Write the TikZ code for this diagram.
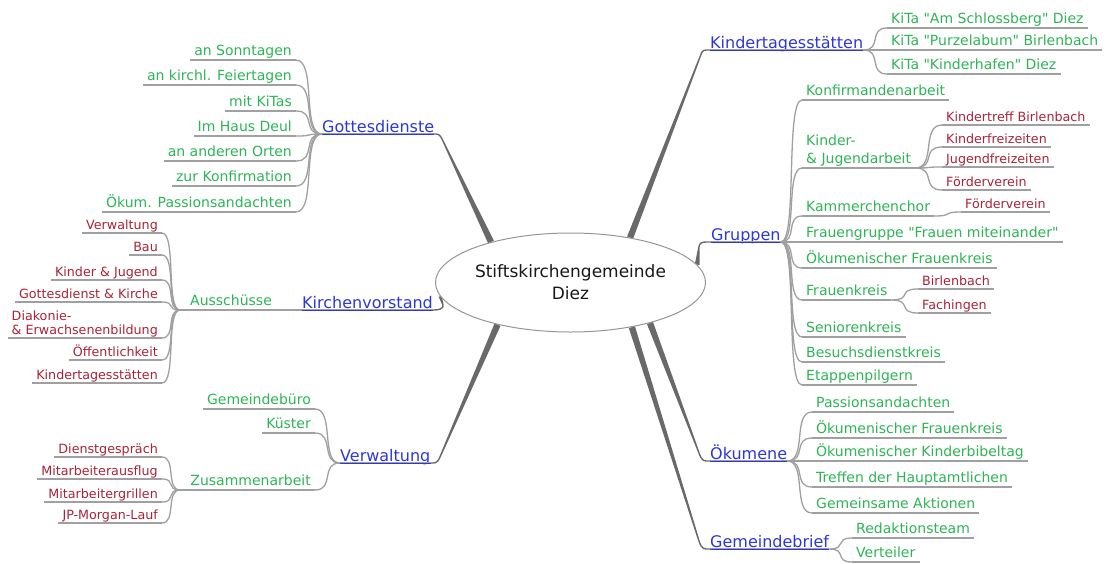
\documentclass[tikz,border=0pt]{standalone}
\usepackage{fontspec}
\setmainfont{DejaVu Sans}
\newfontfamily\mmfont{DejaVu Sans}
\usetikzlibrary{calc,shapes.geometric,backgrounds}
\definecolor{mmblue}{RGB}{45,55,215}
\definecolor{mmgreen}{RGB}{45,180,85}
\definecolor{mmred}{RGB}{170,35,55}
\definecolor{lineC}{RGB}{160,160,160}
\definecolor{taperC}{RGB}{105,105,105}
\definecolor{ellC}{RGB}{150,150,150}
\definecolor{centerT}{RGB}{25,25,25}
\tikzset{
  mmconn/.style={draw=lineC, line width=1.3pt},
  bline/.style={draw=mmblue, line width=1pt},
  gleaf/.style={text=mmgreen, font=\mmfont\fontsize{14}{18}\selectfont, inner xsep=4pt, inner ysep=0pt, text depth=4pt},
  rleaf/.style={text=mmred, font=\mmfont\fontsize{12.7}{14}\selectfont, inner xsep=4pt, inner ysep=0pt, text depth=3pt},
  btopic/.style={text=mmblue, font=\mmfont\fontsize{16}{18}\selectfont, inner sep=0pt, text depth=1.5pt},
}
\newcommand\mmlink[2]{\draw[mmconn] (#1) .. controls ($(#1)!0.8!(#2|-#1)$) and ($(#2)!0.8!(#1|-#2)$) .. (#2);}
\newcommand\mmunder[1]{\draw[mmconn] (#1.south west) -- (#1.south east);}
\newcommand\mmblueunder[1]{\draw[bline] (#1.south west) -- (#1.south east);}
% #1 start on ellipse (thick), #2 bend point, #3 end point, #4 half width at ellipse
\newcommand\mmtaper[4]{%
  \path (#1) coordinate (tpS) (#2) coordinate (tpQ) (#3) coordinate (tpE);
  \fill[taperC] ($(tpS)!#4!90:(tpQ)$) -- ($(tpQ)!0.7pt!-90:(tpS)$) -- ($(tpQ)!0.7pt!90:(tpS)$) -- ($(tpS)!#4!-90:(tpQ)$) -- cycle;
  \draw[taperC, line width=1.4pt] (tpQ) .. controls ($(tpQ)!-4pt!(tpS)$) and ($(tpE)!4pt!(tpQ|-tpE)$) .. (tpE);
}
\begin{document}
\begin{tikzpicture}[x=1pt,y=-1pt]
\useasboundingbox (0,0) rectangle (1112,563);
% centre
\node[ellipse, draw=ellC, fill=white, line width=1pt, minimum width=229pt, minimum height=99pt, inner sep=0pt, align=center, text=centerT, font=\mmfont\fontsize{17}{22}\selectfont] (c) at (570.5,282.5) {Stiftskirchengemeinde\\Diez};

% main topics
\node[btopic, anchor=south west] (gd) at (322,134) {Gottesdienste};
\node[btopic, anchor=south west] (kv) at (302,310) {Kirchenvorstand};
\node[btopic, anchor=south west] (vw) at (340,463) {Verwaltung};
\node[btopic, anchor=south west] (kt) at (710,50) {Kindertagesstätten};
\node[btopic, anchor=south west] (gr) at (711,242) {Gruppen};
\node[btopic, anchor=south west] (ok) at (710,461) {Ökumene};
\node[btopic, anchor=south west] (gb) at (710,549) {Gemeindebrief};

% Gottesdienste
\node[gleaf, anchor=south east] (gd1) at (296,60) {an Sonntagen};
\node[gleaf, anchor=south east] (gd2) at (296,85) {an kirchl. Feiertagen};
\node[gleaf, anchor=south east] (gd3) at (296,111) {mit KiTas};
\node[gleaf, anchor=south east] (gd4) at (296,136) {Im Haus Deul};
\node[gleaf, anchor=south east] (gd5) at (296,161) {an anderen Orten};
\node[gleaf, anchor=south east] (gd6) at (296,186) {zur Konfirmation};
\node[gleaf, anchor=south east] (gd7) at (296,212) {Ökum. Passionsandachten};

% Kirchenvorstand
\node[gleaf, anchor=south west] (aus) at (186,310) {Ausschüsse};
\coordinate (ausj) at (180,310);
\node[rleaf, anchor=south east] (a1) at (162,233) {Verwaltung};
\node[rleaf, anchor=south east] (a2) at (162,255) {Bau};
\node[rleaf, anchor=south east] (a3) at (162,280) {Kinder \& Jugend};
\node[rleaf, anchor=south east] (a4) at (162,302) {Gottesdienst \& Kirche};
\node[rleaf, anchor=south east, align=left] (a5) at (162,338) {Diakonie-\\\& Erwachsenenbildung};
\node[rleaf, anchor=south east] (a6) at (162,360) {Öffentlichkeit};
\node[rleaf, anchor=south east] (a7) at (162,383) {Kindertagesstätten};

% Verwaltung
\node[gleaf, anchor=south east] (v1) at (315,409) {Gemeindebüro};
\node[gleaf, anchor=south east] (v2) at (315,433) {Küster};
\node[gleaf, anchor=south east] (v3) at (315,490) {Zusammenarbeit};
\coordinate (zj) at (180,490);
\node[rleaf, anchor=south east] (z1) at (162,457) {Dienstgespräch};
\node[rleaf, anchor=south east] (z2) at (162,479) {Mitarbeiterausflug};
\node[rleaf, anchor=south east] (z3) at (162,502) {Mitarbeitergrillen};
\node[rleaf, anchor=south east] (z4) at (162,523) {JP-Morgan-Lauf};

% Kindertagesstaetten
\node[gleaf, anchor=south west] (k1) at (887,28) {KiTa "Am Schlossberg" Diez};
\node[gleaf, anchor=south west] (k2) at (887,50) {KiTa "Purzelabum" Birlenbach};
\node[gleaf, anchor=south west] (k3) at (887,74) {KiTa "Kinderhafen" Diez};

% Gruppen
\node[gleaf, anchor=south west] (g1) at (802,100) {Konfirmandenarbeit};
\node[gleaf, anchor=south west, align=left] (g2) at (802,168) {Kinder-\\\& Jugendarbeit};
\node[gleaf, anchor=south west] (g3) at (802,216) {Kammerchenchor};
\node[gleaf, anchor=south west] (g4) at (802,242) {Frauengruppe "Frauen miteinander"};
\node[gleaf, anchor=south west] (g5) at (802,268) {Ökumenischer Frauenkreis};
\node[gleaf, anchor=south west] (g6) at (802,300) {Frauenkreis};
\node[gleaf, anchor=south west] (g7) at (802,337) {Seniorenkreis};
\node[gleaf, anchor=south west] (g8) at (802,362) {Besuchsdienstkreis};
\node[gleaf, anchor=south west] (g9) at (802,385) {Etappenpilgern};
\node[rleaf, anchor=south west] (j1) at (942,125) {Kindertreff Birlenbach};
\node[rleaf, anchor=south west] (j2) at (942,147) {Kinderfreizeiten};
\node[rleaf, anchor=south west] (j3) at (942,167) {Jugendfreizeiten};
\node[rleaf, anchor=south west] (j4) at (942,190) {Förderverein};
\node[rleaf, anchor=south west] (fv) at (961,212) {Förderverein};
\node[rleaf, anchor=south west] (f1) at (918,289) {Birlenbach};
\node[rleaf, anchor=south west] (f2) at (918,313) {Fachingen};

% Oekumene
\node[gleaf, anchor=south west] (o1) at (812,412) {Passionsandachten};
\node[gleaf, anchor=south west] (o2) at (812,438) {Ökumenischer Frauenkreis};
\node[gleaf, anchor=south west] (o3) at (812,461) {Ökumenischer Kinderbibeltag};
\node[gleaf, anchor=south west] (o4) at (812,487) {Treffen der Hauptamtlichen};
\node[gleaf, anchor=south west] (o5) at (812,513) {Gemeinsame Aktionen};

% Gemeindebrief
\node[gleaf, anchor=south west] (r1) at (852,538) {Redaktionsteam};
\node[gleaf, anchor=south west] (r2) at (852,562) {Verteiler};

% end points of the main connectors
\coordinate (gde) at (436,134);
\coordinate (kve) at (434,310);
\coordinate (vwe) at (433,463);
\coordinate (kte) at (706,50);
\coordinate (gre) at (706,242);
\coordinate (oke) at (706,461);
\coordinate (gbe) at (706,549);

\begin{scope}[on background layer]
  \mmtaper{c.153}{443,141}{gde}{3.2pt}
  \mmtaper{c.186}{443,305}{kve}{1.6pt}
  \mmtaper{c.210}{440,457}{vwe}{3.2pt}
  \mmtaper{c.37}{700,57}{kte}{3.2pt}
  \mmtaper{c.8}{699,247}{gre}{2.4pt}
  \mmtaper{c.333}{699,453}{oke}{3.2pt}
  \mmtaper{c.324}{699,541}{gbe}{3.2pt}
\end{scope}

% grey lines under the main topics
\draw[mmconn] (gd.south west) -- (gde);
\draw[mmconn] (kv.south west) -- (kve);
\draw[mmconn] (vw.south west) -- (vwe);
\draw[mmconn] (kte) -- (kt.south east);
\draw[mmconn] (gre) -- (gr.south east);
\draw[mmconn] (oke) -- (ok.south east);
\draw[mmconn] (gbe) -- (gb.south east);
\foreach \n in {gd,kv,vw,kt,gr,ok,gb} {\mmblueunder{\n}}

% underlines of the leaves
\foreach \n in {gd1,gd2,gd3,gd4,gd5,gd6,gd7,aus,a1,a2,a3,a4,a5,a6,a7,v1,v2,v3,z1,z2,z3,z4,k1,k2,k3,g1,g2,g3,g4,g5,g6,g7,g8,g9,j1,j2,j3,j4,fv,f1,f2,o1,o2,o3,o4,o5,r1,r2} {\mmunder{\n}}

% brackets
\foreach \n in {gd1,gd2,gd3,gd4,gd5,gd6,gd7} {\mmlink{\n.south east}{gd.south west}}
\mmlink{aus.south east}{kv.south west}
\draw[mmconn] (ausj) -- (aus.south west);
\foreach \n in {a1,a2,a3,a4,a5,a6,a7} {\mmlink{\n.south east}{ausj}}
\foreach \n in {v1,v2,v3} {\mmlink{\n.south east}{vw.south west}}
\draw[mmconn] (zj) -- (v3.south west);
\foreach \n in {z1,z2,z3,z4} {\mmlink{\n.south east}{zj}}
\foreach \n in {k1,k2,k3} {\mmlink{kt.south east}{\n.south west}}
\foreach \n in {g1,g2,g3,g4,g5,g6,g7,g8,g9} {\mmlink{gr.south east}{\n.south west}}
\foreach \n in {j1,j2,j3,j4} {\mmlink{g2.south east}{\n.south west}}
\mmlink{g3.south east}{fv.south west}
\foreach \n in {f1,f2} {\mmlink{g6.south east}{\n.south west}}
\foreach \n in {o1,o2,o3,o4,o5} {\mmlink{ok.south east}{\n.south west}}
\foreach \n in {r1,r2} {\mmlink{gb.south east}{\n.south west}}
\end{tikzpicture}
\end{document}
